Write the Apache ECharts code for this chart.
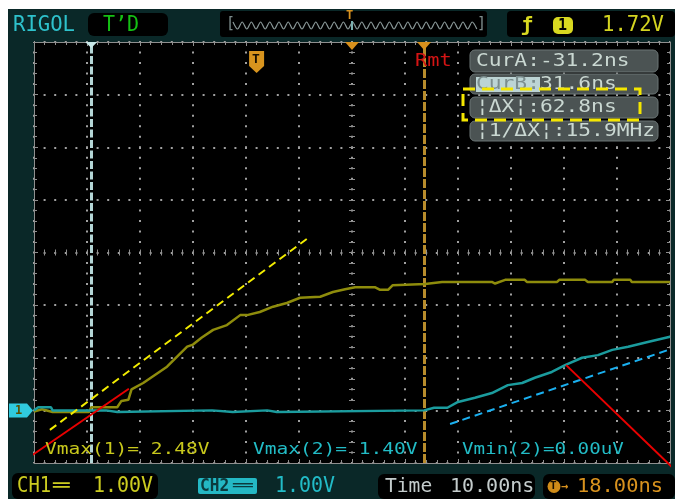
<!DOCTYPE html>
<html><head><meta charset="utf-8">
<script src="https://cdn.jsdelivr.net/npm/echarts@6/dist/echarts.min.js"></script>
<style>html,body{margin:0;padding:0;background:#fff;}#c{width:675px;height:499px;}</style>
</head><body><div id="c"></div>
<script>
// ---- Data (time in ns, voltage in V, 10 ns/div, 1 V/div) ----
const ch1Time = [-42, -40.5, -38.5, -31.6, -31.2, -26.3, -25.5, -24.2, -23.6, -21.4, -16.9, -13.1, -12.0, -10.4, -8.2, -5.6, -3.1, -1.8, 0.6, 3.1, 5.7, 8.2, 12.0, 14.4, 16.7, 18.6, 22.3, 23.3, 24.8, 25.7, 31.8, 35.0, 44.4, 45.0, 46.9, 50.6, 51.0, 56.7, 57.1, 62.0, 62.5, 67.1, 67.4, 70.5, 70.8, 78];
const ch1Volt = [-0.02, 0.02, -0.03, -0.03, 0.06, 0.06, 0.18, 0.2, 0.4, 0.52, 0.83, 1.21, 1.25, 1.38, 1.53, 1.62, 1.81, 1.81, 1.87, 1.97, 2.04, 2.14, 2.16, 2.25, 2.30, 2.34, 2.34, 2.29, 2.29, 2.38, 2.40, 2.44, 2.44, 2.41, 2.48, 2.48, 2.44, 2.44, 2.48, 2.48, 2.44, 2.44, 2.48, 2.48, 2.44, 2.44];
const ch2Time = [-42, -41.2, -38.8, -38.5, -28.4, -28.2, -26.3, -26.1, -8.4, -8.2, -4.5, -4.3, 2.0, 2.2, 3.8, 4.0, 31.6, 33.5, 36.0, 38.0, 41.2, 44.4, 47.4, 50.1, 52.5, 55.7, 58.2, 61.4, 64.4, 67.1, 70.1, 73.8, 78];
const ch2Volt = [0.0, 0.06, 0.06, 0.0, 0.0, -0.03, -0.03, 0.0, 0.0, -0.03, -0.03, 0.0, 0.0, -0.03, -0.03, 0.0, 0.0, 0.05, 0.05, 0.16, 0.24, 0.33, 0.48, 0.52, 0.62, 0.73, 0.86, 1.0, 1.05, 1.15, 1.21, 1.30, 1.40];
// hand-drawn annotation lines [time, volt]
const annYellow = [[-39, -0.37], [9.5, 3.26]];
const annBlue = [[36.5, -0.26], [78.9, 1.19]];
const annRed1 = [[-48.4, -1.27], [-24.1, 0.41]];
const annRed2 = [[58.4, 0.86], [78.9, -1.13]];
// scope settings / readouts
const timeMin = -42, timeMax = 78, delayNs = 18, triggerTime = 0;
const voltMin = -1, voltMax = 7;
const cursorA = -31.2, cursorB = 31.6;
const headerTexts = {brand: 'RIGOL', mode: 'T\u2019D', trigLevel: '1.72V'};
const cursorTexts = ['CurA:-31.2ns', 'CurB:', '31.6ns', '\u00a6\u0394X\u00a6:62.8ns', '\u00a61/\u0394X\u00a6:15.9MHz'];
const measTexts = ['Vmax(1)= 2.48V', 'Vmax(2)= 1.40V', 'Vmin(2)=0.00uV'];
const bottomTexts = {ch1: 'CH1', ch1Scale: '1.00V', ch2: 'CH2', ch2Scale: '1.00V', timeLbl: 'Time', timeBase: '10.00ns', delay: '18.00ns'};

const zip = (a, b) => a.map((v, i) => [v, b[i]]);
const FONT = '"DejaVu Sans Mono", monospace';
const GRID_C = '#8f8f8f';

function T(x, y, text, fill, size, sx, sy, bold, extra) {
  return {type: 'text', x: x, y: y, scaleX: sx || 1, scaleY: sy || 1, z: 100,
    style: Object.assign({text: text, fill: fill, font: (bold ? 'bold ' : '') + size + 'px ' + FONT, verticalAlign: 'middle', align: 'left'}, extra || {})};
}
function R(x, y, w, h, fill, r, z, stroke) {
  return {type: 'rect', z: z == null ? 1 : z, shape: {x: x, y: y, width: w, height: h, r: r || 0}, style: {fill: fill, stroke: stroke || null, lineWidth: stroke ? 1 : 0}};
}

const chart = echarts.init(document.getElementById('c'));

const tickStyle = {color: GRID_C};
const tickAxisX = (extra) => Object.assign({type: 'value', gridIndex: 0, min: 0, max: 12, interval: 1, z: 3,
  axisLabel: {show: false}, axisLine: {show: true, onZero: false, lineStyle: {color: GRID_C, width: 1}},
  axisTick: {show: true, inside: true, length: 4, lineStyle: tickStyle},
  minorTick: {show: true, splitNumber: 5, length: 3, lineStyle: tickStyle},
  splitLine: {show: false}}, extra);
const tickAxisY = (extra) => Object.assign({type: 'value', gridIndex: 0, min: voltMin, max: voltMax, interval: 1, z: 3,
  axisLabel: {show: false}, axisLine: {show: true, onZero: false, lineStyle: {color: GRID_C, width: 1}},
  axisTick: {show: true, inside: true, length: 4, lineStyle: tickStyle},
  minorTick: {show: true, splitNumber: 5, length: 3, lineStyle: tickStyle},
  splitLine: {show: false}}, extra);
const centerLine = {show: false, onZero: false};

const option = {
  animation: false,
  backgroundColor: '#ffffff',
  grid: {left: 34, right: 5, top: 42, bottom: 36, show: false},
  xAxis: [
    {type: 'value', min: timeMin, max: timeMax, show: false, axisLine: {onZero: false}},
    tickAxisX({position: 'bottom', splitLine: {show: true, lineStyle: {color: '#a0a0a0', width: 2, type: [2, 8.525], dashOffset: 1}}}),
    tickAxisX({position: 'top'}),
    tickAxisX({position: 'bottom', offset: -210.5, axisLine: centerLine, axisTick: {show: true, inside: true, length: 3, lineStyle: tickStyle}, minorTick: {show: true, splitNumber: 5, length: 3, lineStyle: tickStyle}}),
    tickAxisX({position: 'bottom', offset: -210.5, axisLine: centerLine, axisTick: {show: true, inside: false, length: 3, lineStyle: tickStyle}, minorTick: {show: true, splitNumber: 5, length: 3, lineStyle: tickStyle}})
  ],
  yAxis: [
    tickAxisY({position: 'left', splitLine: {show: true, lineStyle: {color: '#a0a0a0', width: 2, type: [2, 8.6], dashOffset: 1}}}),
    tickAxisY({position: 'right'}),
    tickAxisY({position: 'left', offset: -318, axisLine: centerLine, axisTick: {show: true, inside: true, length: 3, lineStyle: tickStyle}, minorTick: {show: true, splitNumber: 5, length: 3, lineStyle: tickStyle}}),
    tickAxisY({position: 'left', offset: -318, axisLine: centerLine, axisTick: {show: true, inside: false, length: 3, lineStyle: tickStyle}, minorTick: {show: true, splitNumber: 5, length: 3, lineStyle: tickStyle}})
  ],
  series: [
    {name: 'CH1', type: 'line', xAxisIndex: 0, yAxisIndex: 0, data: zip(ch1Time, ch1Volt), showSymbol: false, z: 5,
      lineStyle: {color: '#8e8c0c', width: 2.5}, itemStyle: {color: '#8e8c0c'},
      markLine: {silent: true, symbol: ['none', 'none'], label: {show: false}, animation: false,
        data: [
          {xAxis: cursorA, lineStyle: {color: '#b4d6d6', width: 3, type: [8, 2.5]}},
          {xAxis: cursorB, lineStyle: {color: '#b88c2c', width: 3, type: [9, 2]}}
        ]}},
    {name: 'CH2', type: 'line', xAxisIndex: 0, yAxisIndex: 0, data: zip(ch2Time, ch2Volt), showSymbol: false, z: 6,
      lineStyle: {color: '#1b9c9e', width: 2.5}, itemStyle: {color: '#1b9c9e'}},
    {type: 'line', data: annYellow, showSymbol: false, clip: false, z: 50, lineStyle: {color: '#f2ec00', width: 2, type: [8, 5]}},
    {type: 'line', data: annBlue, showSymbol: false, clip: false, z: 50, lineStyle: {color: '#1ab0f0', width: 2, type: [8, 5]}},
    {type: 'line', data: annRed1, showSymbol: false, clip: false, z: 50, lineStyle: {color: '#e80000', width: 2}},
    {type: 'line', data: annRed2, showSymbol: false, clip: false, z: 50, lineStyle: {color: '#e80000', width: 2}}
  ]
};
chart.setOption(option);

const px = (t, v) => chart.convertToPixel({xAxisIndex: 0, yAxisIndex: 0}, [t, v]);
const tl = px(timeMin, voltMax), br = px(timeMax, voltMin);
const topY = tl[1];
const xA = px(cursorA, 0)[0], xB = px(cursorB, 0)[0], xC = px(delayNs, 0)[0], xT = px(triggerTime, 0)[0];
const yGnd = px(0, 0)[1];

const wavePts = [];
for (let i = 0, x = 233; x <= 478; i++, x += 4.6) wavePts.push([x, i % 2 ? 29 : 22]);

const g = [];
// panel + screen
g.push(R(8, 9, 667, 490, '#0a2828', 0, -10));
g.push(R(tl[0], tl[1], br[0] - tl[0], br[1] - tl[1], '#000000', 0, -5));
// header
g.push(R(88, 13, 80, 23, '#000', 6));
g.push(R(220, 11, 267, 26, '#000', 3));
g.push(R(507, 11, 168, 26, '#000', 4));
g.push(T(13, 26, headerTexts.brand, '#2ec2cc', 20, 1.03, 1.05, false));
g.push(T(103, 26, headerTexts.mode, '#14c014', 20, 1, 1.02, false));
g.push(T(226, 24, '[', '#7d8c8c', 15, 1, 1, false));
g.push(T(477, 24, ']', '#7d8c8c', 15, 1, 1, false));
g.push({type: 'polyline', z: 100, shape: {points: wavePts, smooth: 0.3}, style: {stroke: '#8a9898', lineWidth: 1.2, fill: null}});
g.push(T(346, 16, 'T', '#d89220', 12, 1, 1, true));
g.push({type: 'rect', z: 100, shape: {x: 351, y: 21, width: 2, height: 9}, style: {fill: '#7ab0b0'}});
g.push(T(521, 26, '\u0192', '#d8d820', 20, 1, 1, true));
g.push(R(553, 17, 20, 17, '#d8d820', 5, 100));
g.push(T(558, 26, '1', '#000', 15, 1, 1, true));
g.push(T(602, 26, headerTexts.trigLevel, '#d4d420', 20, 1.03, 1.03, false));
// grid markers
g.push({type: 'polygon', z: 100, shape: {points: [[xA - 6, topY], [xA + 6, topY], [xA, topY + 6]]}, style: {fill: '#c8e8e8'}});
g.push({type: 'polygon', z: 100, shape: {points: [[xC - 7, topY], [xC + 7, topY], [xC, topY + 8]]}, style: {fill: '#d8901c'}});
g.push({type: 'polygon', z: 100, shape: {points: [[xB - 7, topY], [xB + 7, topY], [xB, topY + 8]]}, style: {fill: '#d8901c'}});
g.push({type: 'polygon', z: 100, shape: {points: [[xT - 7.5, topY + 9], [xT + 7.5, topY + 9], [xT + 7.5, topY + 24], [xT, topY + 31], [xT - 7.5, topY + 24]]}, style: {fill: '#d8941e'}});
g.push(T(xT - 4.5, topY + 18, 'T', '#1a1000', 13, 1, 1, true));
g.push({type: 'polygon', z: 100, shape: {points: [[9, yGnd - 7], [27, yGnd - 7], [33, yGnd], [27, yGnd + 7], [9, yGnd + 7]]}, style: {fill: '#30cade'}});
g.push(T(15, yGnd, '1', '#5a5000', 12, 1, 1, true));
g.push(T(415, 61, 'Rmt', '#d41414', 18, 1.13, 1, false));
// cursor readout boxes
g.push(R(470, 50, 188, 22, '#4b5353', 5, 90, '#6c7676'));
g.push(R(470, 74, 188, 20, '#4b5353', 5, 90, '#6c7676'));
g.push(R(470, 97, 188, 21, '#4b5353', 5, 90, '#6c7676'));
g.push(R(470, 121, 188, 20, '#4b5353', 5, 90, '#6c7676'));
g.push(R(476, 77, 64, 15, '#bcd4d4', 0, 95));
g.push(T(476, 61, cursorTexts[0], '#cad8d2', 18, 1.18, 1, false));
g.push(T(476, 84.5, cursorTexts[1], '#7c8e8e', 18, 1.18, 1, false));
g.push(T(540, 84.5, cursorTexts[2], '#cad8d2', 18, 1.18, 1, false));
g.push(T(476, 107.5, cursorTexts[3], '#cad8d2', 18, 1.18, 1, false));
g.push(T(476, 131, cursorTexts[4], '#cad8d2', 18, 1.18, 1, false));
g.push({type: 'rect', z: 110, shape: {x: 463, y: 89, width: 177, height: 31}, style: {fill: null, stroke: '#f4e600', lineWidth: 3, lineDash: [12, 7]}});
// measurements
g.push(T(45, 450, measTexts[0], '#c8c81c', 16, 1.22, 1, false));
g.push(T(253, 450, measTexts[1], '#22bcc6', 16, 1.22, 1, false));
g.push(T(462, 450, measTexts[2], '#22bcc6', 16, 1.2, 1, false));
// bottom bar
g.push(R(12, 473, 146, 26, '#000', 6));
g.push(R(378, 474, 157, 25, '#000', 6));
g.push(R(543, 474, 132, 25, '#000', 6));
g.push(T(17, 487, bottomTexts.ch1, '#cccc20', 21, 0.9, 1, false));
g.push(T(53, 487, '\u2550', '#cccc20', 21, 1.3, 1, false));
g.push(T(93, 487, bottomTexts.ch1Scale, '#cccc20', 21, 0.95, 1, false));
g.push(R(198, 478, 59, 16, '#24b8c4', 2, 90));
g.push(T(200, 486.5, bottomTexts.ch2, '#0b3b3e', 17, 0.95, 1, true));
g.push(T(233, 486.5, '\u2550', '#0b3b3e', 17, 1.9, 1, false));
g.push(T(275, 487, bottomTexts.ch2Scale, '#22bcc8', 21, 0.95, 1, false));
g.push(T(385, 487, bottomTexts.timeLbl, '#c4cccc', 20, 0.98, 1, false));
g.push(T(450, 487, bottomTexts.timeBase, '#c4cccc', 20, 1.0, 1, false));
g.push({type: 'circle', z: 100, shape: {cx: 554, cy: 486.5, r: 6.5}, style: {fill: '#d08c18'}});
g.push(T(550, 486.5, 'T', '#1a1000', 11, 1, 1, true));
g.push(T(561, 486.5, '\u2192', '#d8921e', 12, 1, 1, true));
g.push(T(577, 487, bottomTexts.delay, '#d8921e', 20, 1.02, 1, false));

chart.setOption({graphic: {elements: g}});
</script></body></html>
